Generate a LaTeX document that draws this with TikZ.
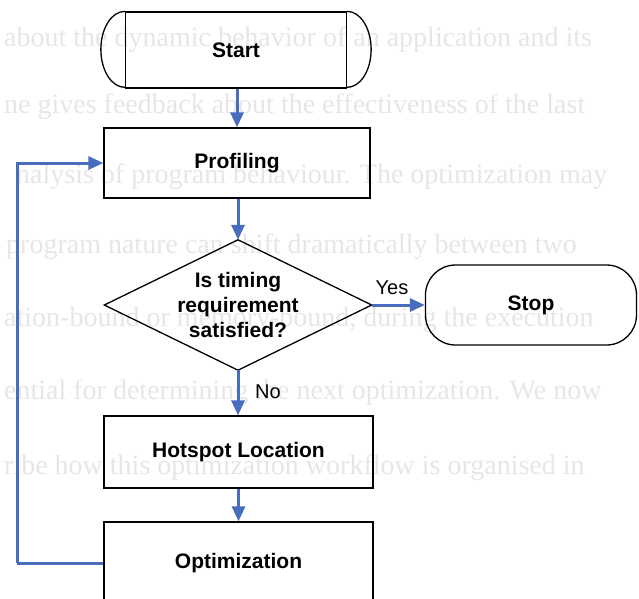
\documentclass[tikz,border=0pt]{standalone}
\usepackage{fontspec}
\setmainfont{Liberation Sans}
\newfontfamily\pagefont{Liberation Serif}
\usetikzlibrary{arrows.meta}
\definecolor{flowblue}{RGB}{72,108,190}
\definecolor{ghost}{RGB}{230,230,234}
\begin{document}
\begin{tikzpicture}[x=1pt,y=-1pt,
  label/.style={font=\bfseries\fontsize{21}{25}\selectfont, inner sep=0pt, align=center},
  procbox/.style={label, draw=black, line width=1.3pt},
  flow/.style={draw=flowblue, line width=3pt, -{Triangle[length=15pt,width=13pt]}},
  loopline/.style={draw=flowblue, line width=3pt},
  outline/.style={draw=black, line width=1.3pt},
  branch/.style={font=\fontsize{20}{24}\selectfont, inner sep=0pt},
  backtext/.style={font=\pagefont\fontsize{28}{32}\selectfont, text=ghost, anchor=base west, inner sep=0pt}
]
\useasboundingbox (0,0) rectangle (639,598);
\clip (0,0) rectangle (639,598);

% text of the reverse side of the page showing through
\node[backtext] (g1) at (4,46)  {about the dynamic behavior of an application and its};
\node[backtext] (g2) at (4,113) {ne gives feedback about the effectiveness of the last};
\node[backtext] (g3) at (16,183) {nalysis of program behaviour. The optimization may};
\node[backtext] (g4) at (6,253) {program nature can shift dramatically between two};
\node[backtext] (g5) at (4,326) {ation-bound or memory-bound, during the execution};
\node[backtext] (g6) at (4,399) {ential for determining the next optimization. We now};
\node[backtext] (g7) at (4,474) {ribe how this optimization workflow is organised in};

% terminal with rounded ends and inner bars
\node[procbox, minimum width=221pt, minimum height=76pt] (start) at (236,50) {Start};
\draw[outline] (start.north west) arc[start angle=270, end angle=90, x radius=24, y radius=38];
\draw[outline] (start.north east) arc[start angle=-90, end angle=90, x radius=24, y radius=38];

\node[procbox, minimum width=266pt, minimum height=70pt] (prof) at (237,163) {Profiling};

% decision
\node[label, minimum width=267pt, minimum height=130pt] (dec) at (238,305)
  {Is timing\\requirement\\satisfied?};
\draw[outline, line join=miter] (dec.north) -- (dec.east) -- (dec.south) -- (dec.west) -- cycle;

\node[procbox, rounded corners=30pt, minimum width=211pt, minimum height=80pt] (stop) at (531,305) {Stop};

\node[procbox, minimum width=269pt, minimum height=72pt] (hot) at (238.5,452) {Hotspot Location};
\node[procbox, minimum width=269pt, minimum height=82pt] (opt) at (238.5,563) {Optimization};

% connectors
\draw[flow] (start.south -| prof.north) -- (prof.north);
\draw[flow] (prof.south -| dec.north) -- (dec.north);
\draw[flow] (dec.east) -- (stop.west |- dec.east);
\draw[flow] (dec.south) -- (hot.north -| dec.south);
\draw[flow] (hot.south) -- (opt.north);
\coordinate (turn) at (17,563);
\draw[loopline] (opt.west) -- (turn);
\draw[flow] (turn) |- (prof.west);

\node[branch] (yes) at (392,288) {Yes};
\node[branch] (no) at (268,392) {No};
\end{tikzpicture}
\end{document}
